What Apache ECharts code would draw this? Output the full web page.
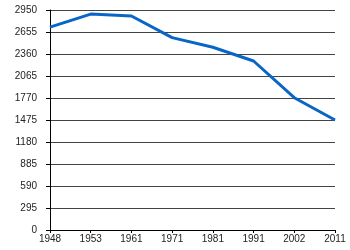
<!DOCTYPE html>
<html><head><meta charset="utf-8">
<script src="https://cdn.jsdelivr.net/npm/echarts@6/dist/echarts.min.js"></script>
<style>html,body{margin:0;padding:0;background:#fff}#c{width:350px;height:250px}</style>
</head><body><div id="c"></div>
<script>
const years = ['1948','1953','1961','1971','1981','1991','2002','2011'];
const population = [2720, 2895, 2870, 2580, 2450, 2266, 1774, 1475];
const yMin = 0, yMax = 2950, yStep = 295;

const chart = echarts.init(document.getElementById('c'), null, {renderer:'canvas'});
chart.setOption({
  animation: false,
  backgroundColor: '#fff',
  grid: {left: 50, right: 15, top: 10, bottom: 20, containLabel: false},
  xAxis: {
    type: 'category', data: years, boundaryGap: false,
    axisLine: {show: true, lineStyle: {color: '#000', width: 1}},
    axisTick: {show: true, length: 3, lineStyle: {color: '#000'}},
    axisLabel: {color: '#222', fontSize: 10, fontFamily: 'Liberation Sans, Arial, sans-serif', margin: 4},
    splitLine: {show: false}
  },
  yAxis: {
    type: 'value', min: yMin, max: yMax, interval: yStep,
    axisLine: {show: true, lineStyle: {color: '#000', width: 1}},
    axisTick: {show: true, length: 4, lineStyle: {color: '#000'}},
    axisLabel: {color: '#222', fontSize: 10, fontFamily: 'Liberation Sans, Arial, sans-serif', margin: 13,
      formatter: v => String(v)},
    splitLine: {show: true, lineStyle: {color: '#444', width: 1}}
  },
  series: [{
    type: 'line', data: population, symbol: 'none',
    lineStyle: {color: '#0866c6', width: 3},
    itemStyle: {color: '#0866c6'}
  }]
});
</script></body></html>
